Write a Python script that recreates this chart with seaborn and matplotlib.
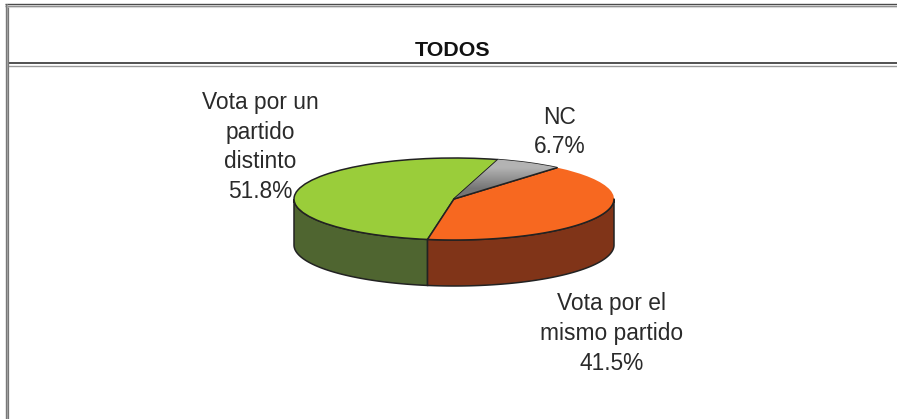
import numpy as np
import matplotlib
matplotlib.use('Agg')
import matplotlib.pyplot as plt
import seaborn as sns

# DATA
categories = ['Vota por un\npartido\ndistinto', 'Vota por el\nmismo partido', 'NC']
shares = [51.8, 41.5, 6.7]
title = 'TODOS'
top_colors = ['#9ACD3A', '#F76820', '#999999']
side_colors = ['#4F6530', '#803418', '#555555']

sns.set_theme(style='white')
plt.rcParams['font.family'] = ['Liberation Sans', 'DejaVu Sans']

W, H = 897, 419
fig = plt.figure(figsize=(W / 100, H / 100), dpi=100, facecolor='white')

# background axes in pixels, for the table lines and the labels
bg = fig.add_axes([0, 0, 1, 1])
bg.set_xlim(0, W)
bg.set_ylim(H, 0)
bg.axis('off')

# TABLE LINES
bg.hlines(4.5, 5, W, color='#4a4a4a', linewidth=1.0)
bg.hlines(6.0, 5, W, color='#8c8c8c', linewidth=1.0)
bg.hlines(7.0, 8, W, color='#d8d8d8', linewidth=0.8)
bg.hlines(63.5, 6, W, color='#222222', linewidth=1.1)
bg.hlines(65.8, 8, W, color='#9a9a9a', linewidth=1.0)
bg.vlines(5.5, 4, H, color='#777777', linewidth=1.0)
bg.vlines(7.0, 4, H, color='#a5a5a5', linewidth=0.8)
bg.vlines(8.3, 7, H, color='#777777', linewidth=0.9)

bg.text(453, 50, title, ha='center', va='center', fontsize=15.4, fontweight='bold', color='#111111')

# PIE — squashed unit circle, axes limits map 1 unit to rx / ry pixels
cx, cy, rx, ry = 454, 199, 160, 41
depth = 46 / ry
ax = fig.add_axes([0, 0, 1, 1])
ax.patch.set_alpha(0)

start = 74
edge = '#222222'
bounds = [start + sum(shares[:i]) * 3.6 for i in range(len(shares) + 1)]

# side wall, only the front half (180-360 deg) is visible
for i in range(2):
    t = np.radians(np.linspace(max(bounds[i], 180), min(bounds[i + 1], 360), 120))
    x = np.cos(t)
    y = np.sin(t)
    ax.fill(np.r_[x, x[::-1]], np.r_[y, y[::-1] - depth],
            facecolor=side_colors[i], edgecolor=edge, linewidth=1.1, zorder=1)

wedges, _ = ax.pie(shares, colors=top_colors, startangle=start, counterclock=True,
                   radius=1, center=(0, 0), frame=True,
                   wedgeprops={'edgecolor': edge, 'linewidth': 1.1, 'zorder': 2})

# orange slice has no outline on its back edge
wedges[1].set_edgecolor('none')
t = np.radians(np.linspace(bounds[1], 360, 80))
ax.plot(np.cos(t), np.sin(t), color=edge, linewidth=1.1, zorder=3)
for b in bounds[1:3]:
    ax.plot([0, np.cos(np.radians(b))], [0, np.sin(np.radians(b))], color=edge, linewidth=1.1, zorder=3)

# grey slice has a soft gradient
grad = np.array([[0.70], [0.46]])
im = ax.imshow(grad, cmap='gray', vmin=0, vmax=1, extent=(0, 0.7, 0, 1.0),
               interpolation='bilinear', aspect='auto', zorder=2.5)
im.set_clip_path(wedges[2])

ax.set_aspect('auto')
ax.set_xlim((0 - cx) / rx, (W - cx) / rx)
ax.set_ylim((cy - H) / ry, cy / ry)
ax.axis('off')

# LABELS
label_pos = [(260, 147), (611.5, 333.5), (560, 132)]
for name, val, (lx, ly) in zip(categories, shares, label_pos):
    bg.text(lx, ly, f'{name}\n{val:.1f}%', ha='center', va='center',
            fontsize=16.4, color='#2a2a2a', linespacing=1.37, zorder=5)

fig.savefig('out.png', dpi=100)
plt.close()
